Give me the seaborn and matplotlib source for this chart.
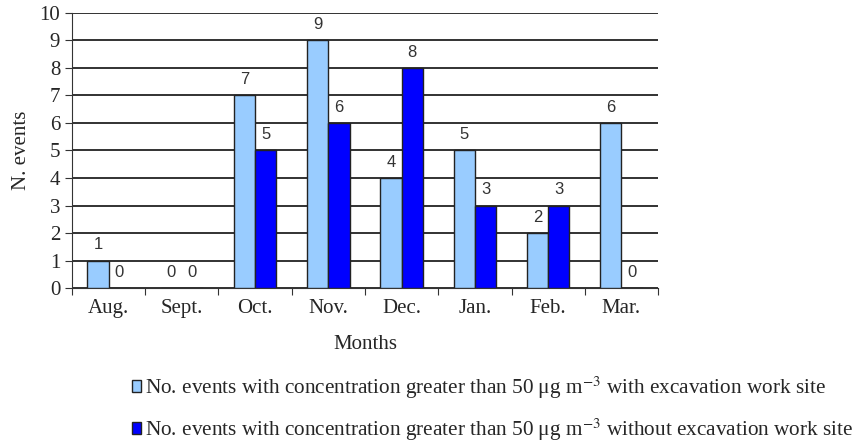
import pandas as pd
import seaborn as sns
import matplotlib.pyplot as plt
from matplotlib.ticker import FixedLocator

months = ["Aug.", "Sept.", "Oct.", "Nov.", "Dec.", "Jan.", "Feb.", "Mar."]
with_site = [1, 0, 7, 9, 4, 5, 2, 6]
without_site = [0, 0, 5, 6, 8, 3, 3, 0]
series_names = [
    r"No. events with concentration greater than 50 μg m$^{-3}$ with excavation work site",
    r"No. events with concentration greater than 50 μg m$^{-3}$ without excavation work site",
]

df = pd.DataFrame({
    "Months": months * 2,
    "N. events": with_site + without_site,
    "Serie": [series_names[0]] * len(months) + [series_names[1]] * len(months),
})

sns.set_style("white")
plt.rcParams['font.family'] = ['Liberation Serif', 'DejaVu Serif']
plt.rcParams['mathtext.fontset'] = 'stix'

fig = plt.figure(figsize=(8.63, 4.45), dpi=100)
ax = fig.add_axes([0.0834, 0.3528, 0.6791, 0.618])

sns.barplot(data=df, x="Months", y="N. events", hue="Serie", order=months,
            hue_order=series_names, palette=["#99CCFF", "#0000FF"], saturation=1,
            width=0.58, edgecolor="#222222", linewidth=1.0, ax=ax, zorder=3)

for cont in ax.containers:
    ax.bar_label(cont, padding=6, fontsize=12, family="Liberation Sans", color="#333333")

ax.set_ylim(0, 10)
ax.set_xlim(-0.5, 7.5)
ax.set_yticks(range(0, 11))
ax.yaxis.grid(True, color="#222222", linewidth=1.3, zorder=0)
ax.set_axisbelow(True)

# ticks on category boundaries, labels centred
ax.xaxis.set_major_locator(FixedLocator([i - 0.5 for i in range(len(months) + 1)]))
ax.xaxis.set_major_formatter(plt.NullFormatter())
ax.xaxis.set_minor_locator(FixedLocator(range(len(months))))
ax.set_xticklabels(months, minor=True)
ax.tick_params(axis="x", which="major", direction="out", length=5, color="#333333", bottom=True)
ax.tick_params(axis="x", which="minor", length=0, labelsize=15, pad=8)
ax.tick_params(axis="y", direction="out", length=5, color="#333333", left=True, labelsize=15)

for s in ["top", "right"]:
    ax.spines[s].set_visible(False)
ax.spines["left"].set_color("#333333")
ax.spines["bottom"].set_color("#333333")

ax.set_xlabel("Months", fontsize=15, labelpad=12)
ax.set_ylabel("N. events", fontsize=15, labelpad=6)

ax.legend(loc="upper left", bbox_to_anchor=(0.143, 0.178), bbox_transform=fig.transFigure,
          frameon=False, fontsize=15.3, handlelength=0.42, handleheight=0.5,
          handletextpad=0.2, labelspacing=0.75, borderaxespad=0)

fig.savefig("out.png", dpi=100)
